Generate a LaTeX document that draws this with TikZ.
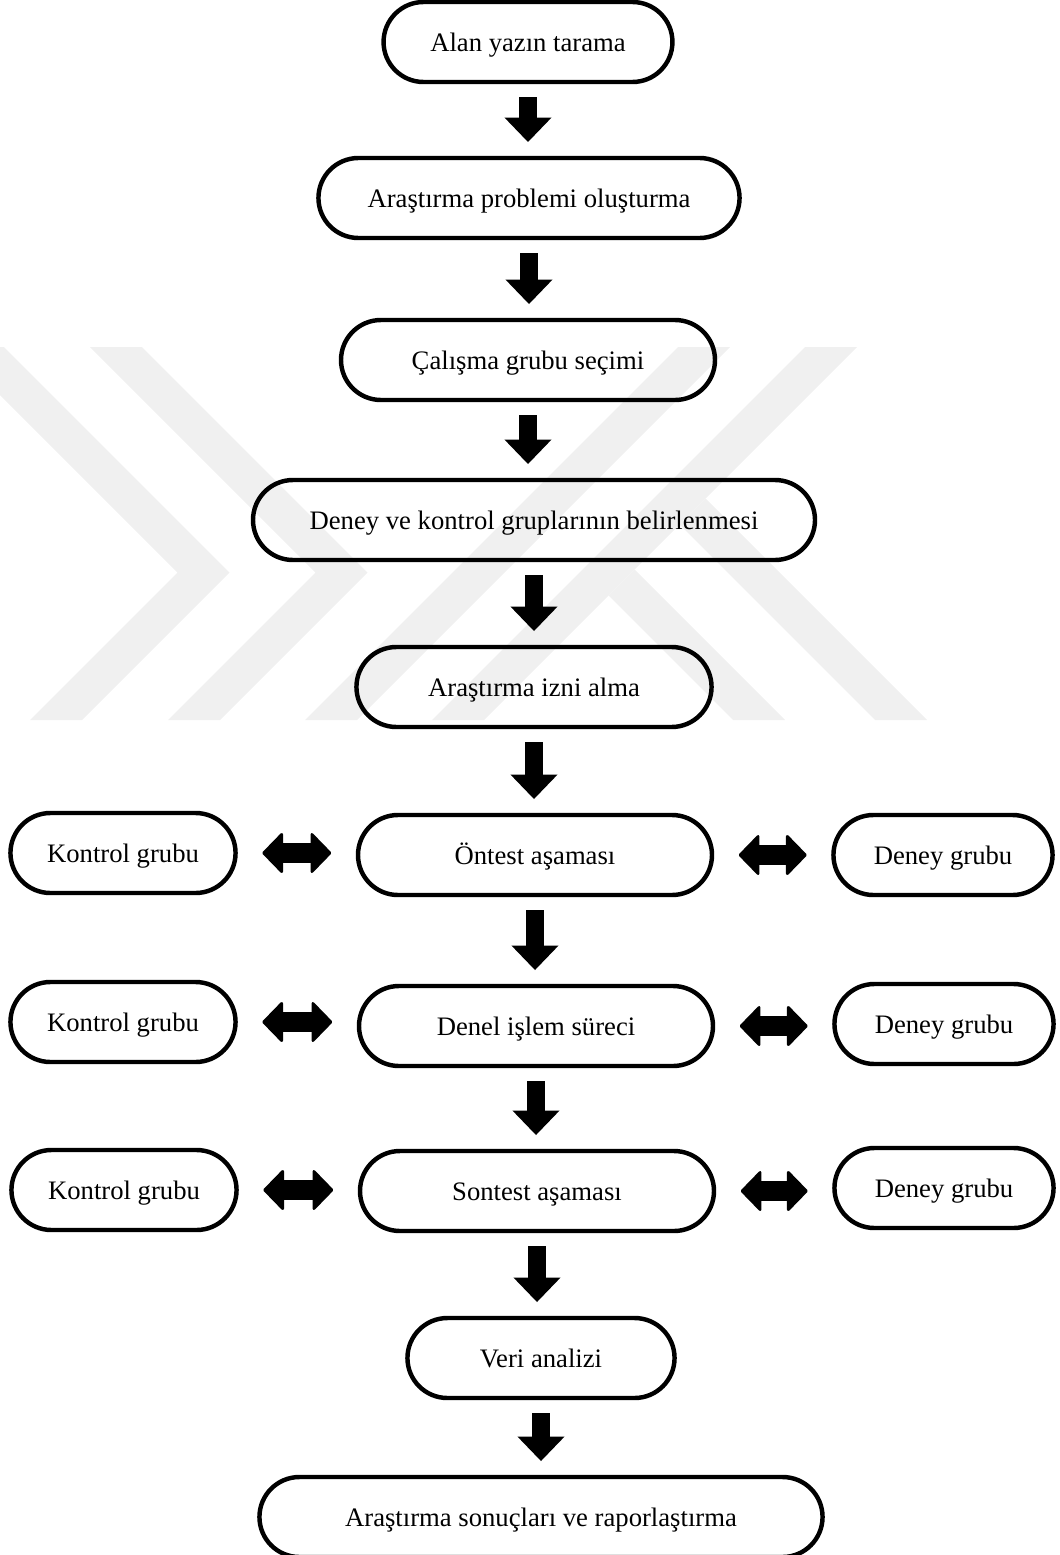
\documentclass[tikz,border=0pt]{standalone}
\usepackage{fontspec}
\setmainfont{Liberation Serif}
\usetikzlibrary{shapes.misc,arrows.meta}

\begin{document}
\begin{tikzpicture}[x=0.45pt,y=-0.45pt,
	stage/.style={rounded rectangle,draw,line width=2pt,minimum height=36pt,inner sep=0pt,text height=10pt,text depth=1.2pt,font=\fontsize{12}{14}\selectfont},
	down/.style={line width=8.1pt,-{Triangle[width=21.2pt,length=11pt,line width=0pt]},shorten <=5.8pt,shorten >=6.2pt},
	both/.style={line width=9pt,{Triangle[width=19.5pt,length=9.6pt,line width=1.2pt,round]}-{Triangle[width=19.5pt,length=9.6pt,line width=1.2pt,round]},shorten <=11pt,shorten >=11pt},
	wmark/.style={fill=black!6}]
	\useasboundingbox (0,0) rectangle (1060,1555);

	% watermark
	\fill[wmark] (-48,347) -- (4,347) -- (229.5,572.5) -- (82,720) -- (30,720) -- (177.5,572.5) -- cycle;
	\fill[wmark] (90,347) -- (142,347) -- (367.5,572.5) -- (220,720) -- (168,720) -- (315.5,572.5) -- cycle;
	\fill[wmark] (305,720) -- (357,720) -- (730,347) -- (678,347) -- cycle;
	\fill[wmark] (432,720) -- (484,720) -- (857,347) -- (805,347) -- cycle;
	\fill[wmark] (608.5,595.5) -- (634.5,569.5) -- (785,720) -- (733,720) -- cycle;
	\fill[wmark] (679.5,524.5) -- (705.5,498.5) -- (927,720) -- (875,720) -- cycle;

	% main column
	\node[stage,minimum width=130pt] (alan) at (528,42) {Alan yazın tarama};
	\node[stage,minimum width=189.5pt] (problem) at (529,198) {Araştırma problemi oluşturma};
	\node[stage,minimum width=168.3pt] (grup) at (528,360) {Çalışma grubu seçimi};
	\node[stage,minimum width=252.9pt] (deney) at (534,520) {Deney ve kontrol gruplarının belirlenmesi};
	\node[stage,minimum width=159.8pt] (izin) at (534,687) {Araştırma izni alma};
	\node[stage,minimum width=159.3pt] (ontest) at (535,855) {Öntest aşaması};
	\node[stage,minimum width=159.3pt] (denel) at (536,1026) {Denel işlem süreci};
	\node[stage,minimum width=159.3pt] (sontest) at (537,1191) {Sontest aşaması};
	\node[stage,minimum width=120.2pt] (veri) at (541,1358) {Veri analizi};
	\node[stage,minimum width=253.4pt] (sonuc) at (541,1517) {Araştırma sonuçları ve raporlaştırma};

	% side groups
	\node[stage,minimum width=101.3pt] (k1) at (123,853) {Kontrol grubu};
	\node[stage,minimum width=98.6pt] (d1) at (943,855) {Deney grubu};
	\node[stage,minimum width=101.3pt] (k2) at (123,1022) {Kontrol grubu};
	\node[stage,minimum width=98.6pt] (d2) at (944,1024) {Deney grubu};
	\node[stage,minimum width=101.3pt] (k3) at (124,1190) {Kontrol grubu};
	\node[stage,minimum width=98.6pt] (d3) at (944,1188) {Deney grubu};

	% arrows
	\draw[down] (alan.south) -- (alan.south |- problem.north);
	\draw[down] (problem.south) -- (problem.south |- grup.north);
	\draw[down] (grup.south) -- (grup.south |- deney.north);
	\draw[down] (deney.south) -- (deney.south |- izin.north);
	\draw[down] (izin.south) -- (izin.south |- ontest.north);
	\draw[down] (ontest.south) -- (ontest.south |- denel.north);
	\draw[down] (denel.south) -- (denel.south |- sontest.north);
	\draw[down] (sontest.south) -- (sontest.south |- veri.north);
	\draw[down] (veri.south) -- (veri.south |- sonuc.north);

	\draw[both] (k1.east) -- (k1.east -| ontest.west);
	\draw[both] (ontest.east) -- (ontest.east -| d1.west);
	\draw[both] (k2.east) -- (k2.east -| denel.west);
	\draw[both] (denel.east) -- (denel.east -| d2.west);
	\draw[both] (k3.east) -- (k3.east -| sontest.west);
	\draw[both] (sontest.east) -- (sontest.east -| d3.west);
\end{tikzpicture}
\end{document}
